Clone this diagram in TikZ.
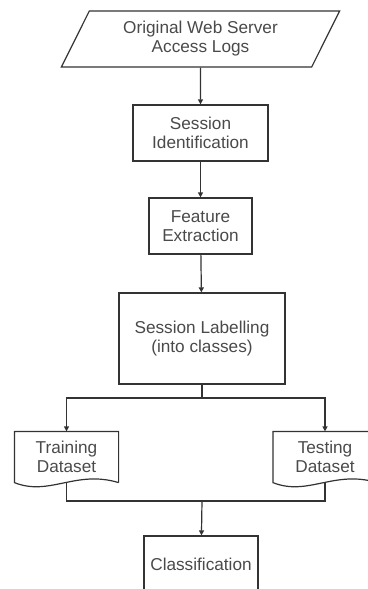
\documentclass[tikz,border=0pt]{standalone}
\usepackage{fontspec}
\setmainfont{Liberation Sans}
\usetikzlibrary{shapes.geometric,arrows.meta}
\definecolor{linegray}{HTML}{333333}
\definecolor{textgray}{HTML}{4A4A4A}
\tikzset{
  stepbox/.style={draw=linegray, line width=1.2pt, fill=white, text=textgray,
    align=center, inner sep=0pt, font=\fontsize{17.2}{19}\selectfont},
  databox/.style={stepbox, trapezium, trapezium left angle=61,
    trapezium right angle=119, trapezium stretches=true},
  docbox/.style={stepbox, draw=none, fill=none},
  flow/.style={draw=linegray, line width=1.2pt},
  arrow/.style={flow, -{Triangle[length=5pt,width=5pt]}}
}
\begin{document}
\begin{tikzpicture}[x=1pt, y=-1pt]
  \useasboundingbox (0,0) rectangle (367,589);

  % main steps
  \node[databox, minimum width=279, minimum height=56] (logs) at (200.5,39)
    {Original Web Server\\Access Logs};
  \node[stepbox, minimum width=135, minimum height=56] (ident) at (200.5,133)
    {Session\\Identification};
  \node[stepbox, minimum width=103, minimum height=56] (feat) at (200.5,226)
    {Feature\\Extraction};
  \node[stepbox, minimum width=166, minimum height=91] (label) at (202,338.5)
    {Session Labelling\\(into classes)};

  % datasets
  \node[docbox, minimum width=103, minimum height=50] (train) at (66.5,457)
    {Training\\Dataset};
  \node[docbox, minimum width=103, minimum height=50] (test) at (325,457)
    {Testing\\Dataset};
  \draw[flow] (train.south east) -- (train.north east) -- (train.north west)
    -- (train.south west) .. controls +(35,14) and +(-43,-13) .. (train.south east);
  \draw[flow] (test.south east) -- (test.north east) -- (test.north west)
    -- (test.south west) .. controls +(35,14) and +(-43,-13) .. (test.south east);

  \node[stepbox, minimum width=114, minimum height=56] (classif) at (201,564)
    {Classification};

  % junctions
  \coordinate (split) at (202,398);
  \coordinate (merge) at (202,501);

  \draw[arrow] (logs) -- (ident);
  \draw[arrow] (ident) -- (feat);
  \draw[arrow] (feat) -- (label);
  \draw[flow] (label) -- (split);
  \draw[arrow] (split) -| (train.north);
  \draw[arrow] (split) -| (test.north);
  \draw[flow] (train.south) |- (merge) -| (test.south);
  \draw[arrow] (merge) -- (classif);
\end{tikzpicture}
\end{document}
